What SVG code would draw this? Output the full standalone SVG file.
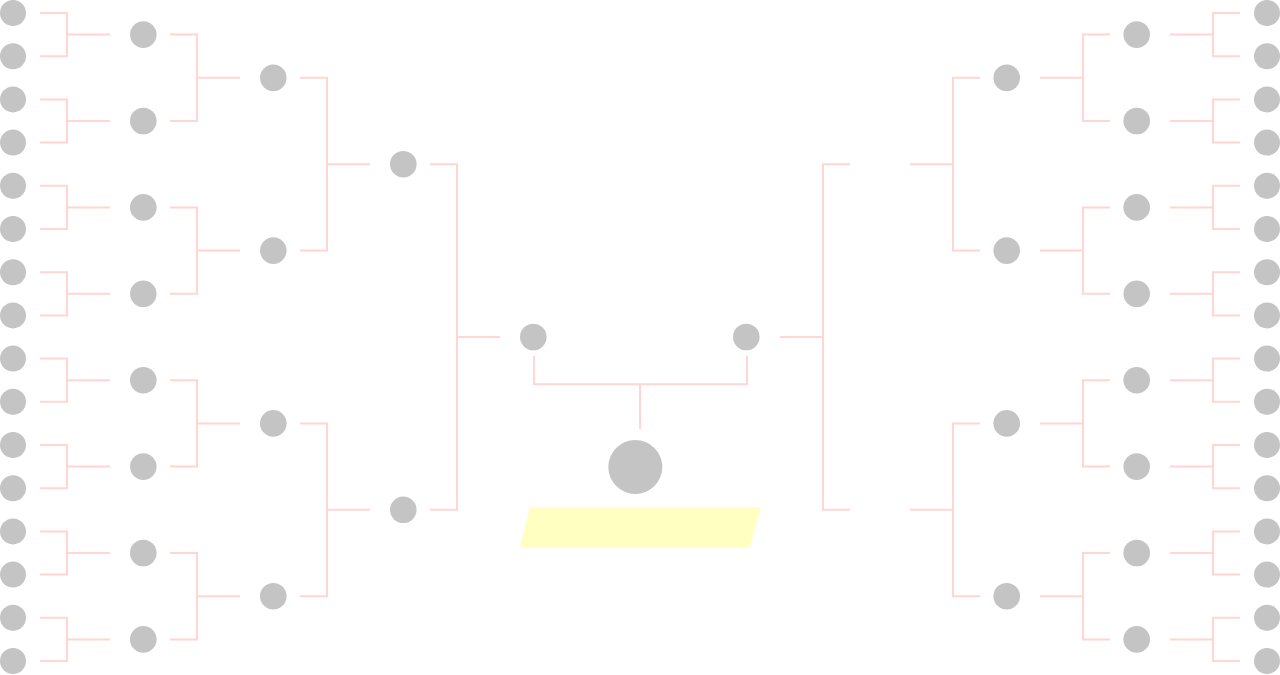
<svg xmlns="http://www.w3.org/2000/svg" width="1280" height="675" viewBox="0 0 1280 675">
<style>
.n{fill:#c4c4c4}
.c{fill:none;stroke:#ffd6d4;stroke-width:2}
.b{fill:#ffffc2}
</style>
<rect width="1280" height="675" fill="#ffffff"/>
<g id="connectors" class="c">
<!-- left round 1 -->
<path d="M40,13H67V56.2H40M67,34.6H110"/>
<path d="M40,99.4H67V142.6H40M67,121H110"/>
<path d="M40,185.8H67V229H40M67,207.4H110"/>
<path d="M40,272.2H67V315.4H40M67,293.8H110"/>
<path d="M40,358.6H67V401.8H40M67,380.2H110"/>
<path d="M40,445H67V488.2H40M67,466.6H110"/>
<path d="M40,531.4H67V574.6H40M67,553H110"/>
<path d="M40,617.8H67V661H40M67,639.4H110"/>
<!-- left round 2 -->
<path d="M170,34.6H197V121H170M197,77.8H240"/>
<path d="M170,207.4H197V293.8H170M197,250.6H240"/>
<path d="M170,380.2H197V466.6H170M197,423.4H240"/>
<path d="M170,553H197V639.4H170M197,596.2H240"/>
<!-- left round 3 -->
<path d="M300,77.8H327V250.6H300M327,164.2H370"/>
<path d="M300,423.4H327V596.2H300M327,509.8H370"/>
<!-- left round 4 -->
<path d="M430,164.2H457V509.8H430M457,337H500"/>
<!-- final -->
<path d="M534,356V384.3H747V356M640,384.3V429"/>
<!-- right round 4 -->
<path d="M850,164.2H823V509.8H850M823,337H780"/>
<!-- right round 3 -->
<path d="M980,77.8H953V250.6H980M953,164.2H910"/>
<path d="M980,423.4H953V596.2H980M953,509.8H910"/>
<!-- right round 2 -->
<path d="M1110,34.6H1083V121H1110M1083,77.8H1040"/>
<path d="M1110,207.4H1083V293.8H1110M1083,250.6H1040"/>
<path d="M1110,380.2H1083V466.6H1110M1083,423.4H1040"/>
<path d="M1110,553H1083V639.4H1110M1083,596.2H1040"/>
<!-- right round 1 -->
<path d="M1240,13H1213V56.2H1240M1213,34.6H1170"/>
<path d="M1240,99.4H1213V142.6H1240M1213,121H1170"/>
<path d="M1240,185.8H1213V229H1240M1213,207.4H1170"/>
<path d="M1240,272.2H1213V315.4H1240M1213,293.8H1170"/>
<path d="M1240,358.6H1213V401.8H1240M1213,380.2H1170"/>
<path d="M1240,445H1213V488.2H1240M1213,466.6H1170"/>
<path d="M1240,531.4H1213V574.6H1240M1213,553H1170"/>
<path d="M1240,617.8H1213V661H1240M1213,639.4H1170"/>
</g>
<g id="left-r1" class="n">
<circle id="L1-1" cx="13" cy="13" r="13"/>
<circle id="L1-2" cx="13" cy="56.2" r="13"/>
<circle id="L1-3" cx="13" cy="99.4" r="13"/>
<circle id="L1-4" cx="13" cy="142.6" r="13"/>
<circle id="L1-5" cx="13" cy="185.8" r="13"/>
<circle id="L1-6" cx="13" cy="229" r="13"/>
<circle id="L1-7" cx="13" cy="272.2" r="13"/>
<circle id="L1-8" cx="13" cy="315.4" r="13"/>
<circle id="L1-9" cx="13" cy="358.6" r="13"/>
<circle id="L1-10" cx="13" cy="401.8" r="13"/>
<circle id="L1-11" cx="13" cy="445" r="13"/>
<circle id="L1-12" cx="13" cy="488.2" r="13"/>
<circle id="L1-13" cx="13" cy="531.4" r="13"/>
<circle id="L1-14" cx="13" cy="574.6" r="13"/>
<circle id="L1-15" cx="13" cy="617.8" r="13"/>
<circle id="L1-16" cx="13" cy="661" r="13"/>
</g>
<g id="left-r2" class="n">
<circle id="L2-1" cx="143.3" cy="34.6" r="13.3"/>
<circle id="L2-2" cx="143.3" cy="121" r="13.3"/>
<circle id="L2-3" cx="143.3" cy="207.4" r="13.3"/>
<circle id="L2-4" cx="143.3" cy="293.8" r="13.3"/>
<circle id="L2-5" cx="143.3" cy="380.2" r="13.3"/>
<circle id="L2-6" cx="143.3" cy="466.6" r="13.3"/>
<circle id="L2-7" cx="143.3" cy="553" r="13.3"/>
<circle id="L2-8" cx="143.3" cy="639.4" r="13.3"/>
</g>
<g id="left-r3" class="n">
<circle id="L3-1" cx="273.3" cy="77.8" r="13.3"/>
<circle id="L3-2" cx="273.3" cy="250.6" r="13.3"/>
<circle id="L3-3" cx="273.3" cy="423.4" r="13.3"/>
<circle id="L3-4" cx="273.3" cy="596.2" r="13.3"/>
</g>
<g id="left-r4" class="n">
<circle id="L4-1" cx="403.3" cy="164.2" r="13.3"/>
<circle id="L4-2" cx="403.3" cy="509.8" r="13.3"/>
</g>
<g id="left-r5" class="n">
<circle id="L5" cx="533.3" cy="337" r="13.3"/>
</g>
<g id="right-r5" class="n">
<circle id="R5" cx="746.3" cy="337" r="13.3"/>
</g>
<g id="champion">
<circle class="n" cx="635.3" cy="467" r="27"/>
<polygon class="b" points="530,507.3 760.7,507.3 750,547.3 520,547.3"/>
</g>
<g id="right-r3" class="n">
<circle id="R3-1" cx="1006.7" cy="77.8" r="13.3"/>
<circle id="R3-2" cx="1006.7" cy="250.6" r="13.3"/>
<circle id="R3-3" cx="1006.7" cy="423.4" r="13.3"/>
<circle id="R3-4" cx="1006.7" cy="596.2" r="13.3"/>
</g>
<g id="right-r2" class="n">
<circle id="R2-1" cx="1136.7" cy="34.6" r="13.3"/>
<circle id="R2-2" cx="1136.7" cy="121" r="13.3"/>
<circle id="R2-3" cx="1136.7" cy="207.4" r="13.3"/>
<circle id="R2-4" cx="1136.7" cy="293.8" r="13.3"/>
<circle id="R2-5" cx="1136.7" cy="380.2" r="13.3"/>
<circle id="R2-6" cx="1136.7" cy="466.6" r="13.3"/>
<circle id="R2-7" cx="1136.7" cy="553" r="13.3"/>
<circle id="R2-8" cx="1136.7" cy="639.4" r="13.3"/>
</g>
<g id="right-r1" class="n">
<circle id="R1-1" cx="1267" cy="13" r="13"/>
<circle id="R1-2" cx="1267" cy="56.2" r="13"/>
<circle id="R1-3" cx="1267" cy="99.4" r="13"/>
<circle id="R1-4" cx="1267" cy="142.6" r="13"/>
<circle id="R1-5" cx="1267" cy="185.8" r="13"/>
<circle id="R1-6" cx="1267" cy="229" r="13"/>
<circle id="R1-7" cx="1267" cy="272.2" r="13"/>
<circle id="R1-8" cx="1267" cy="315.4" r="13"/>
<circle id="R1-9" cx="1267" cy="358.6" r="13"/>
<circle id="R1-10" cx="1267" cy="401.8" r="13"/>
<circle id="R1-11" cx="1267" cy="445" r="13"/>
<circle id="R1-12" cx="1267" cy="488.2" r="13"/>
<circle id="R1-13" cx="1267" cy="531.4" r="13"/>
<circle id="R1-14" cx="1267" cy="574.6" r="13"/>
<circle id="R1-15" cx="1267" cy="617.8" r="13"/>
<circle id="R1-16" cx="1267" cy="661" r="13"/>
</g>
</svg>
